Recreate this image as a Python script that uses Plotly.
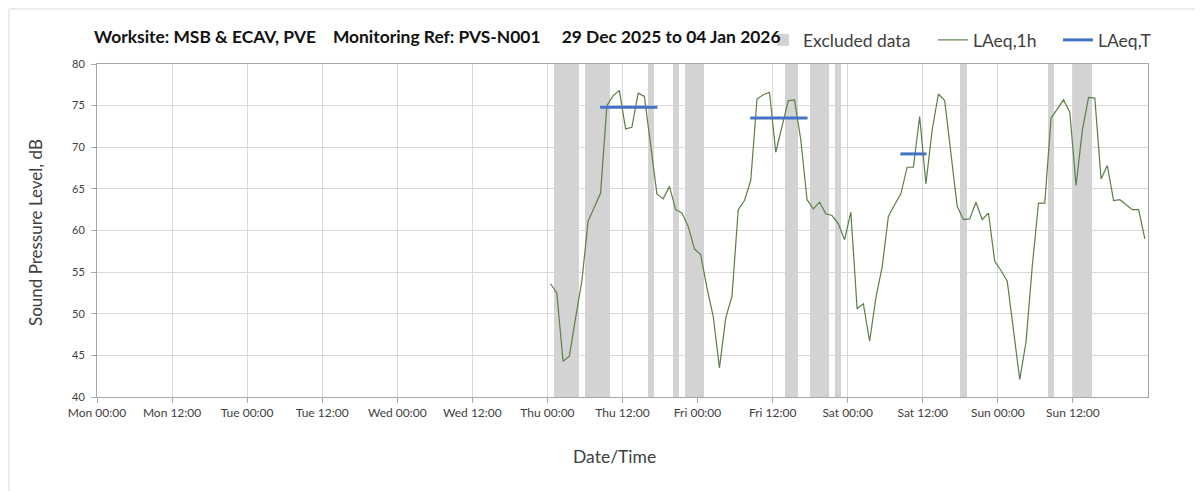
import pandas as pd
import plotly.graph_objects as go

# ---- data ----
laeq_1h = [53.6, 52.5, 44.3, 44.9, 49.5, 53.9, 61.1, 62.7, 64.5, 75.0, 76.2, 76.8, 72.2, 72.4, 76.5, 76.1, 70.0, 64.4, 63.8, 65.3, 62.5, 62.1, 60.5, 57.8,
           57.1, 53.1, 49.7, 43.5, 49.5, 52.1, 62.5, 63.6, 66.0, 75.8, 76.3, 76.6, 69.4, 72.5, 75.6, 75.7, 70.9, 63.7, 62.6, 63.4, 62.0, 61.8, 60.8, 58.9,
           62.2, 50.6, 51.2, 46.7, 51.9, 55.6, 61.7, 63.1, 64.4, 67.6, 67.6, 73.7, 65.6, 72.1, 76.4, 75.6, 69.3, 62.9, 61.3, 61.4, 63.4, 61.3, 62.1, 56.3,
           55.2, 53.9, 48.0, 42.1, 46.6, 55.7, 63.3, 63.3, 73.5, 74.6, 75.7, 74.2, 65.4, 72.0, 76.0, 75.9, 66.2, 67.8, 63.6, 63.7, 63.1, 62.5, 62.5, 59.0]
times_1h = pd.date_range("2026-01-01 00:30", periods=len(laeq_1h), freq="h")

excl_start = ["2026-01-01 01:00", "2026-01-01 06:00", "2026-01-01 16:00", "2026-01-01 20:00", "2026-01-01 22:00",
              "2026-01-02 14:00", "2026-01-02 18:00", "2026-01-02 22:00", "2026-01-03 18:00",
              "2026-01-04 08:00", "2026-01-04 12:00"]
excl_end = ["2026-01-01 05:00", "2026-01-01 10:00", "2026-01-01 17:00", "2026-01-01 21:00", "2026-01-02 01:00",
            "2026-01-02 16:00", "2026-01-02 21:00", "2026-01-02 23:00", "2026-01-03 19:00",
            "2026-01-04 09:00", "2026-01-04 15:00"]

laeqT_start = ["2026-01-01 08:25", "2026-01-02 08:25", "2026-01-03 08:25"]
laeqT_end = ["2026-01-01 17:35", "2026-01-02 17:35", "2026-01-03 12:35"]
laeqT_val = [74.8, 73.5, 69.2]

x_tickvals = pd.date_range("2025-12-29 00:00", "2026-01-04 12:00", freq="12h")
x_ticktext = [t.strftime("%a %H:%M") for t in x_tickvals]
y_ticks = [40, 45, 50, 55, 60, 65, 70, 75, 80]
y_min, y_max = 40, 80

title_text = "Worksite: MSB & ECAV, PVE    Monitoring Ref: PVS-N001     29 Dec 2025 to 04 Jan 2026"
x_title = "Date/Time"
y_title = "Sound Pressure Level, dB"

# ---- figure ----
FONT = "Lato"
TXT = "#404040"
fig = go.Figure()

s = pd.to_datetime(excl_start)
e = pd.to_datetime(excl_end)
mid = s + (e - s) / 2
widths = [(b - a).total_seconds() * 1000 for a, b in zip(s, e)]
fig.add_trace(go.Bar(
    x=mid, y=[y_max - y_min] * len(mid), base=[y_min] * len(mid), width=widths,
    marker=dict(color="#d3d3d3", line=dict(width=0)), name="Excluded data",
    hoverinfo="skip", legend="legend"))

fig.add_trace(go.Scatter(
    x=times_1h, y=laeq_1h, mode="lines", name="LAeq,1h",
    line=dict(color="#5b7f46", width=1.2), legend="legend2"))

for i, (a, b, v) in enumerate(zip(laeqT_start, laeqT_end, laeqT_val)):
    fig.add_trace(go.Scatter(
        x=[a, b], y=[v, v], mode="lines", name="LAeq,T",
        line=dict(color="#4472c4", width=3), showlegend=(i == 0),
        legendgroup="laeqT", legend="legend3"))

# page pixel geometry (browser body has an 8px margin)
OFF = 8
W, H = 1203, 491
PL, PR, PT, PB = 97, 1148, 64, 397     # plot area in page pixels
L, R, T, B = PL - OFF, W - (PR - OFF), PT - OFF, H - (PB - OFF)
pw, ph = PR - PL, PB - PT

def px_x(p):
    return (p - PL) / pw

def px_y(p):
    return (PB - p) / ph

def leg(x_text_start):
    return dict(orientation="h", x=px_x(x_text_start - 40), y=px_y(40), xanchor="left", yanchor="middle",
                font=dict(size=17.5, color=TXT, family=FONT), bgcolor="rgba(0,0,0,0)",
                itemwidth=30)

fig.update_layout(
    width=W, height=H,
    margin=dict(l=L, r=R, t=T, b=B, autoexpand=False),
    paper_bgcolor="white", plot_bgcolor="white",
    font=dict(family=FONT, color=TXT),
    showlegend=True,
    legend=leg(803), legend2=leg(973), legend3=leg(1098),
    bargap=0,
    xaxis=dict(
        type="date", range=["2025-12-29 00:00", "2026-01-05 00:00"],
        tickvals=x_tickvals, ticktext=x_ticktext, automargin=False,
        tickfont=dict(size=12, color=TXT),
        showgrid=True, gridcolor="#d9d9d9", gridwidth=1,
        showline=True, linecolor="#a6a6a6", linewidth=1, mirror=True,
        ticks="outside", ticklen=5, tickcolor="#a6a6a6",
        zeroline=False),
    yaxis=dict(
        range=[y_min, y_max], tickvals=y_ticks, automargin=False,
        tickfont=dict(size=11, color=TXT), ticklabelstandoff=4,
        showgrid=True, gridcolor="#d9d9d9", gridwidth=1,
        showline=True, linecolor="#a6a6a6", linewidth=1, mirror=True,
        ticks="outside", ticklen=5, tickcolor="#a6a6a6",
        zeroline=False),
    annotations=[
        dict(text="<b>" + title_text + "</b>", xref="paper", yref="paper",
             x=px_x(92), y=px_y(37), xanchor="left", yanchor="middle", showarrow=False,
             font=dict(size=17.4, color="#111111", family=FONT)),
        dict(text=x_title, xref="paper", yref="paper",
             x=px_x(614), y=px_y(456), xanchor="center", yanchor="middle", showarrow=False,
             font=dict(size=17.5, color=TXT, family=FONT)),
        dict(text=y_title, xref="paper", yref="paper", textangle=-90,
             x=px_x(35), y=px_y(233), xanchor="center", yanchor="middle", showarrow=False,
             font=dict(size=17, color=TXT, family=FONT)),
    ],
    shapes=[
        dict(type="line", xref="paper", yref="paper",
             x0=px_x(9), x1=px_x(1215), y0=px_y(9), y1=px_y(9),
             line=dict(color="#d9d9d9", width=1)),
        dict(type="line", xref="paper", yref="paper",
             x0=px_x(9), x1=px_x(9), y0=px_y(9), y1=px_y(500),
             line=dict(color="#d9d9d9", width=1)),
    ],
)

fig.write_html("out.html")
